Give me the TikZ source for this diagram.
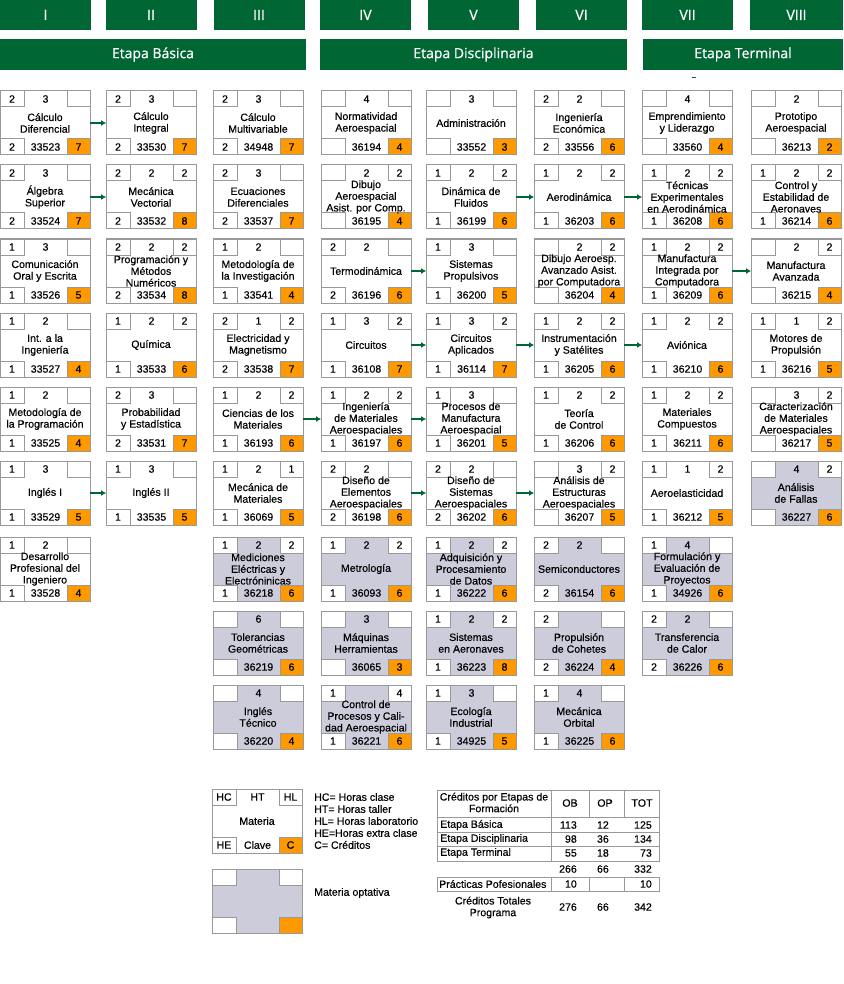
\documentclass[tikz,border=0pt]{standalone}
\usepackage{fontspec}
\setmainfont{Liberation Sans}[FakeBold=0.35]
\newfontfamily\etapafont{Open Sans}[FakeBold=0.6]
\usetikzlibrary{arrows.meta}
\definecolor{verde}{RGB}{0,102,51}
\definecolor{credito}{RGB}{255,153,0}
\definecolor{optativa}{RGB}{204,204,219}
\definecolor{borde}{RGB}{153,153,153}
% materia: [relleno](x,y){HC}{HT}{HL}{nombre}{HE}{clave}{creditos}
\def\materia[#1](#2)#3#4#5#6#7#8#9{%
	\begin{scope}[shift={(#2)}]
		\fill[#1] (0,0) rectangle (90,64);
		\fill[white] (0,0) rectangle (24,16) (67,0) rectangle (90,16) (0,48) rectangle (24,64);
		\fill[credito] (67,48) rectangle (90,64);
		\draw[celda] (0,0) rectangle (90,64) (24,0) |- (0,16) (67,0) |- (90,16)
			(0,48) -| (24,64) (90,48) -| (67,64);
		\node[materia] (m#8) at (45,32) {#6};
		\node[hora] (m#8hc) at (12,8) {#3};
		\node[hora] (m#8ht) at (45.5,8) {#4};
		\node[hora] (m#8hl) at (78.5,8) {#5};
		\node[hora] (m#8he) at (12,56) {#7};
		\node[hora] (m#8cl) at (45.5,56) {#8};
		\node[hora] (m#8cr) at (78.5,56) {#9};
	\end{scope}}

\begin{document}
\begin{tikzpicture}[x=1pt, y=-1pt,
	celda/.style={draw=borde, line width=1pt},
	materia/.style={minimum width=90pt, minimum height=64pt, inner sep=0pt, outer sep=0pt, align=center, font=\fontsize{10.6}{11.7}\selectfont},
	hora/.style={inner sep=0pt, font=\fontsize{10.6}{11.7}\selectfont},
	texto/.style={inner sep=0pt, align=center, font=\fontsize{10.6}{11.7}\selectfont},
	semestre/.style={fill=verde, text=white, minimum width=91pt, minimum height=30pt, inner sep=0pt, font=\etapafont\fontsize{14}{16}\selectfont},
	etapa/.style={semestre, minimum height=31pt},
	flecha/.style={draw=verde, line width=1.4pt, -{Latex[length=5pt,width=6pt]}},
	tabla/.style={draw=borde, line width=1pt}]
		%%%%% START %%%%%
		\useasboundingbox (0,0) rectangle (843,984);
		
		\node[semestre] (sI) at (45.5,15) {I};
		\node[semestre] (sII) at (151,15) {II};
		\node[semestre] (sIII) at (259,15) {III};
		\node[semestre] (sIV) at (365.5,15) {IV};
		\node[semestre] (sV) at (473.5,15) {V};
		\node[semestre] (sVI) at (581.5,15) {VI};
		\node[semestre] (sVII) at (687.5,15) {VII};
		\node[semestre, minimum width=93pt] (sVIII) at (796.5,15) {VIII};
		
		\node[etapa, minimum width=306pt] (eBasica) at (153,54.5) {Etapa Básica};
		\node[etapa, minimum width=307pt] (eDisciplinaria) at (473.5,54.5) {Etapa Disciplinaria};
		\node[etapa, minimum width=200pt] (eTerminal) at (743,54.5) {Etapa Terminal};
		\draw[verde] (692,77) -- (696,77);
		
		% semestre I
		\materia[white](0,91){2}{3}{}{Cálculo\\Diferencial}{2}{33523}{7}
		\materia[white](0,165){2}{3}{}{Álgebra\\Superior}{2}{33524}{7}
		\materia[white](0,239){1}{3}{}{Comunicación\\Oral y Escrita}{1}{33526}{5}
		\materia[white](0,313){1}{2}{}{Int. a la\\Ingeniería}{1}{33527}{4}
		\materia[white](0,387){1}{2}{}{Metodología de\\la Programación}{1}{33525}{4}
		\materia[white](0,461){1}{3}{}{Inglés I}{1}{33529}{5}
		\materia[white](0,537){1}{2}{}{Desarrollo\\Profesional del\\Ingeniero}{1}{33528}{4}
		
		% semestre II
		\materia[white](106,91){2}{3}{}{Cálculo\\Integral}{2}{33530}{7}
		\materia[white](106,165){2}{2}{2}{Mecánica\\Vectorial}{2}{33532}{8}
		\materia[white](106,239){2}{2}{2}{Programación y\\Métodos\\Numéricos}{2}{33534}{8}
		\materia[white](106,313){1}{2}{2}{Química}{1}{33533}{6}
		\materia[white](106,387){2}{3}{}{Probabilidad\\y Estadística}{2}{33531}{7}
		\materia[white](106,461){1}{3}{}{Inglés II}{1}{33535}{5}
		
		% semestre III
		\materia[white](213,91){2}{3}{}{Cálculo\\Multivariable}{2}{34948}{7}
		\materia[white](213,165){2}{3}{}{Ecuaciones\\Diferenciales}{2}{33537}{7}
		\materia[white](213,239){1}{2}{}{Metodología de\\la Investigación}{1}{33541}{4}
		\materia[white](213,313){2}{1}{2}{Electricidad y\\Magnetismo}{2}{33538}{7}
		\materia[white](213,387){1}{2}{2}{Ciencias de los\\Materiales}{1}{36193}{6}
		\materia[white](213,461){1}{2}{1}{Mecánica de\\Materiales}{1}{36069}{5}
		\materia[optativa](213,537){1}{2}{2}{Mediciones\\Eléctricas y\\Electróninicas}{1}{36218}{6}
		\materia[optativa](213,611){}{6}{}{Tolerancias\\Geométricas}{}{36219}{6}
		\materia[optativa](213,685){}{4}{}{Inglés\\Técnico}{}{36220}{4}
		
		% semestre IV
		\materia[white](321,91){}{4}{}{Normatividad\\Aeroespacial}{}{36194}{4}
		\materia[white](321,165){}{2}{2}{Dibujo\\Aeroespacial\\Asist. por Comp.}{}{36195}{4}
		\materia[white](321,239){2}{2}{}{Termodinámica}{2}{36196}{6}
		\materia[white](321,313){1}{3}{2}{Circuitos}{1}{36108}{7}
		\materia[white](321,387){1}{2}{2}{Ingeniería\\de Materiales\\Aeroespaciales}{1}{36197}{6}
		\materia[white](321,461){2}{2}{}{Diseño de\\Elementos\\Aeroespaciales}{2}{36198}{6}
		\materia[optativa](321,537){1}{2}{2}{Metrología}{1}{36093}{6}
		\materia[optativa](321,611){}{3}{}{Máquinas\\Herramientas}{}{36065}{3}
		\materia[optativa](321,685){1}{}{4}{Control de\\Procesos y Cali-\\dad Aeroespacial}{1}{36221}{6}
		
		% semestre V
		\materia[white](426,91){}{3}{}{Administración}{}{33552}{3}
		\materia[white](426,165){1}{2}{2}{Dinámica de\\Fluidos}{1}{36199}{6}
		\materia[white](426,239){1}{3}{}{Sistemas\\Propulsivos}{1}{36200}{5}
		\materia[white](426,313){1}{3}{2}{Circuitos\\Aplicados}{1}{36114}{7}
		\materia[white](426,387){1}{3}{}{Procesos de\\Manufactura\\Aeroespacial}{1}{36201}{5}
		\materia[white](426,461){2}{2}{}{Diseño de\\Sistemas\\Aeroespaciales}{2}{36202}{6}
		\materia[optativa](426,537){1}{2}{2}{Adquisición y\\Procesamiento\\de Datos}{1}{36222}{6}
		\materia[optativa](426,611){1}{2}{2}{Sistemas\\en Aeronaves}{1}{36223}{8}
		\materia[optativa](426,685){1}{3}{}{Ecología\\Industrial}{1}{34925}{5}
		
		% semestre VI
		\materia[white](534,91){2}{2}{}{Ingeniería\\Económica}{2}{33556}{6}
		\materia[white](534,165){1}{2}{2}{Aerodinámica}{1}{36203}{6}
		\materia[white](534,239){}{2}{2}{Dibujo Aeroesp.\\Avanzado Asist.\\por Computadora}{}{36204}{4}
		\materia[white](534,313){1}{2}{2}{Instrumentación\\y Satélites}{1}{36205}{6}
		\materia[white](534,387){1}{2}{2}{Teoría\\de Control}{1}{36206}{6}
		\materia[white](534,461){}{3}{2}{Análisis de\\Estructuras\\Aeroespaciales}{}{36207}{5}
		\materia[optativa](534,537){2}{2}{}{Semiconductores}{2}{36154}{6}
		\materia[optativa](534,611){2}{}{}{Propulsión\\de Cohetes}{2}{36224}{4}
		\materia[optativa](534,685){1}{4}{}{Mecánica\\Orbital}{1}{36225}{6}
		
		% semestre VII
		\materia[white](642,91){}{4}{}{Emprendimiento\\y Liderazgo}{}{33560}{4}
		\materia[white](642,165){1}{2}{2}{Técnicas\\Experimentales\\en Aerodinámica}{1}{36208}{6}
		\materia[white](642,239){1}{2}{2}{Manufactura\\Integrada por\\Computadora}{1}{36209}{6}
		\materia[white](642,313){1}{2}{2}{Aviónica}{1}{36210}{6}
		\materia[white](642,387){1}{2}{2}{Materiales\\Compuestos}{1}{36211}{6}
		\materia[white](642,461){1}{1}{2}{Aeroelasticidad}{1}{36212}{5}
		\materia[optativa](642,537){1}{4}{}{Formulación y\\Evaluación de\\Proyectos}{1}{34926}{6}
		\materia[optativa](642,611){2}{2}{}{Transferencia\\de Calor}{2}{36226}{6}
		
		% semestre VIII
		\materia[white](751,91){}{2}{}{Prototipo\\Aeroespacial}{}{36213}{2}
		\materia[white](751,165){1}{2}{2}{Control y\\Estabilidad de\\Aeronaves}{1}{36214}{6}
		\materia[white](751,239){}{2}{2}{Manufactura\\Avanzada}{}{36215}{4}
		\materia[white](751,313){1}{1}{2}{Motores de\\Propulsión}{1}{36216}{5}
		\materia[white](751,387){}{3}{2}{Caracterización\\de Materiales\\Aeroespaciales}{}{36217}{5}
		\materia[optativa](751,461){}{4}{2}{Análisis\\de Fallas}{}{36227}{6}
		
		% seriaciones
		\draw[flecha] (m33523.east) -- (m33530.west);
		\draw[flecha] (m33524.east) -- (m33532.west);
		\draw[flecha] (m33529.east) -- (m33535.west);
		\draw[flecha] (m36193.east) -- (m36197.west);
		\draw[flecha] (m36197.east) -- (m36201.west);
		\draw[flecha] (m36196.east) -- (m36200.west);
		\draw[flecha] (m36199.east) -- (m36203.west);
		\draw[flecha] (m36203.east) -- (m36208.west);
		\draw[flecha] (m36108.east) -- (m36114.west);
		\draw[flecha] (m36114.east) -- (m36205.west);
		\draw[flecha] (m36205.east) -- (m36210.west);
		\draw[flecha] (m36198.east) -- (m36202.west);
		\draw[flecha] (m36202.east) -- (m36207.west);
		\draw[flecha] (m36209.east) -- (m36215.west);
		
		% leyenda
		\materia[white](212,789){HC}{HT}{HL}{Materia}{HE}{Clave}{C}
		\node[texto, anchor=west, align=left, font=\fontsize{10.6}{12}\selectfont] (claves) at (314,821) {HC= Horas clase\\HT= Horas taller\\HL= Horas laboratorio\\HE=Horas extra clase\\C= Créditos};
		\materia[optativa](212,869){}{}{}{}{}{}{}
		\node[texto, anchor=west] (optativas) at (314,893) {Materia optativa};
		
		% tabla de creditos
		\draw[tabla] (437,790) rectangle (659,817) (551,790) -- (551,817) (589,790) -- (589,817) (624,790) -- (624,817);
		\draw[tabla] (437,817) rectangle (659,861) (437,832) -- (659,832) (437,846) -- (659,846) (551,817) -- (551,861);
		\draw[tabla] (437,877) rectangle (659,891) (551,877) -- (551,891) (589,877) -- (589,891) (624,877) -- (624,891);
		\node[texto] (tTitulo) at (494,802.5) {Créditos por Etapas de\\Formación};
		\node[texto] (tOB) at (570,803) {OB};
		\node[texto] (tOP) at (605,803) {OP};
		\node[texto] (tTOT) at (642,803) {TOT};
		\node[texto, anchor=west] (tBasica) at (440,825) {Etapa Básica};
		\node[texto, anchor=west] (tDisciplinaria) at (440,839) {Etapa Disciplinaria};
		\node[texto, anchor=west] (tTerminal) at (440,853) {Etapa Terminal};
		\node[texto, anchor=west] (tPracticas) at (439,884) {Prácticas Pofesionales};
		\node[texto] (tTotales) at (493,907.5) {Créditos Totales\\Programa};
		\node[texto, anchor=east] (bOB) at (577,825) {113};
		\node[texto, anchor=east] (bOP) at (609,825) {12};
		\node[texto, anchor=east] (bTOT) at (652,825) {125};
		\node[texto, anchor=east] (dOB) at (577,839) {98};
		\node[texto, anchor=east] (dOP) at (609,839) {36};
		\node[texto, anchor=east] (dTOT) at (652,839) {134};
		\node[texto, anchor=east] (tmOB) at (577,853) {55};
		\node[texto, anchor=east] (tmOP) at (609,853) {18};
		\node[texto, anchor=east] (tmTOT) at (652,853) {73};
		\node[texto, anchor=east] (sOB) at (577,869) {266};
		\node[texto, anchor=east] (sOP) at (609,869) {66};
		\node[texto, anchor=east] (sTOT) at (652,869) {332};
		\node[texto, anchor=east] (pOB) at (577,884) {10};
		\node[texto, anchor=east] (pTOT) at (652,884) {10};
		\node[texto, anchor=east] (gOB) at (577,907) {276};
		\node[texto, anchor=east] (gOP) at (609,907) {66};
		\node[texto, anchor=east] (gTOT) at (652,907) {342};
		
		%%%%% END %%%%%
	\end{tikzpicture}
\end{document}
